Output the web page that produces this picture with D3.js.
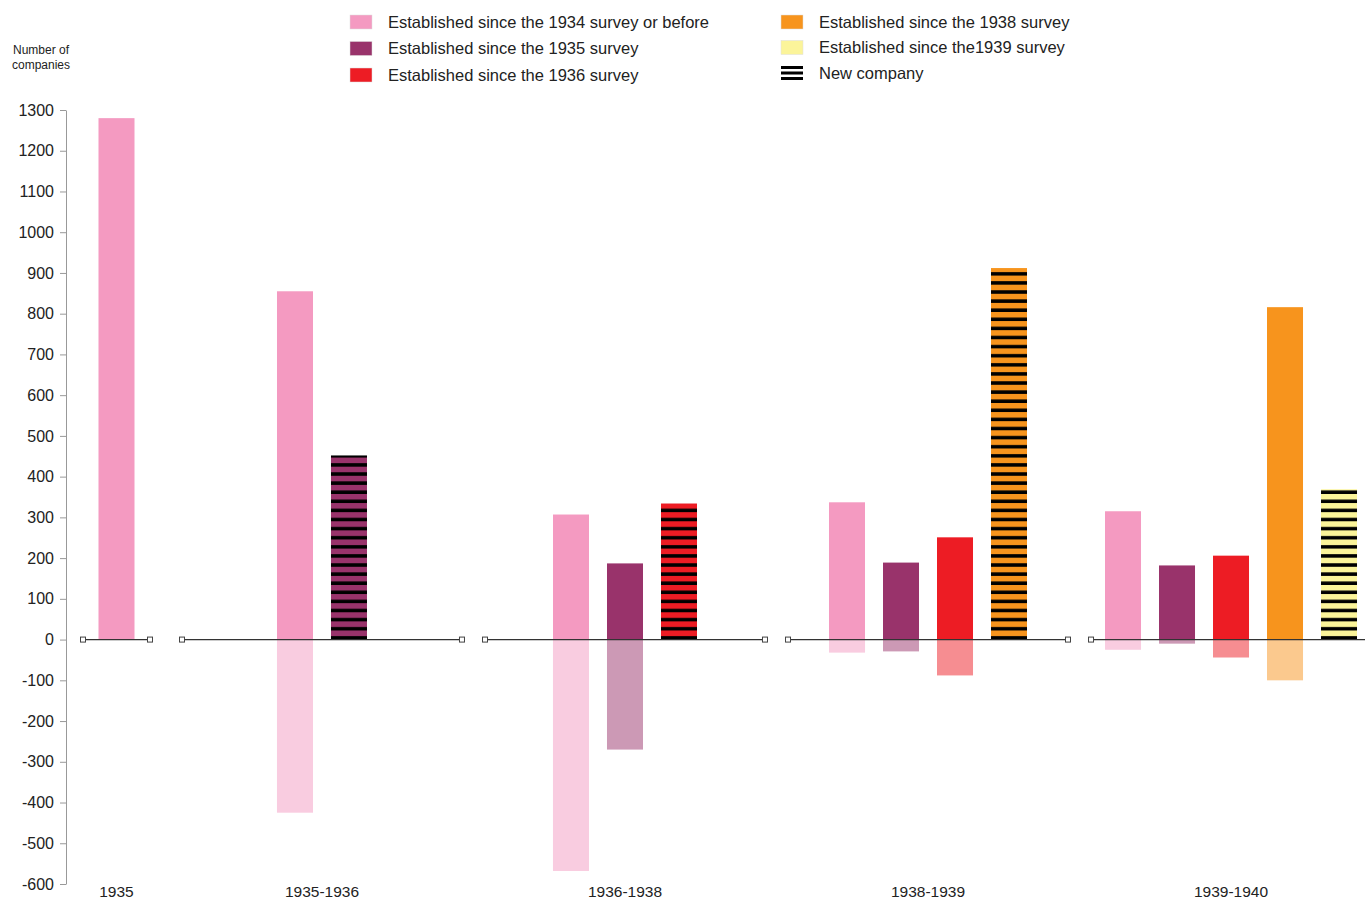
<!DOCTYPE html>
<html>
<head>
<meta charset="utf-8">
<script src="https://cdn.jsdelivr.net/npm/d3@7"></script>
<style>
  body { margin: 0; background: #fff; }
  svg text { font-family: "Liberation Sans", Arial, sans-serif; fill: #222; }
</style>
</head>
<body>
<div id="chart"></div>
<script>
// Data
const periods = ["1935", "1935-1936", "1936-1938", "1938-1939", "1939-1940"];
const cohorts = [
  "Established since the 1934 survey or before",
  "Established since the 1935 survey",
  "Established since the 1936 survey",
  "Established since the 1938 survey",
  "Established since the1939 survey"
];
const cohortColors = ["#f49ac1", "#99336b", "#ed1c24", "#f7941d", "#fbf49a"];
// companies present per period (one value per cohort, last one is the new cohort)
const gains = [
  [1280],
  [855, 452],
  [307, 187, 334],
  [337, 189, 251, 912],
  [315, 182, 206, 816, 369]
];
// companies lost per period
const losses = [
  [0],
  [-425, 0],
  [-568, -270, 0],
  [-32, -29, -88, 0],
  [-25, -10, -44, -100, 0]
];
const yTicks = d3.range(-600, 1301, 100);

let chart = {
  width: 1365,
  height: 900,
  axisX: 66,
  yTop: 110,
  yBottom: 884,
  barW: 36,
  slot: 54,
  svg: null
};

chart.svg = d3.select("#chart").append("svg")
  .attr("width", chart.width)
  .attr("height", chart.height);

let y = d3.scaleLinear().domain([-600, 1300]).range([chart.yBottom, chart.yTop]);

// group placement: first period is a single narrow group, the others share one band scale
let band = d3.scaleBand().domain(periods.slice(1))
  .range([182, 1371]).paddingInner(0.076).paddingOuter(0);
let groupSpan = (i) => i === 0
  ? [83, 150]
  : [band(periods[i]), band(periods[i]) + band.bandwidth()];
let groupCenter = (i) => (groupSpan(i)[0] + groupSpan(i)[1]) / 2;
let barX = (g, k) => groupCenter(g) + (k - (gains[g].length - 1) / 2) * chart.slot - chart.barW / 2;

// stripe patterns for the newly established companies
let defs = chart.svg.append("defs");
cohortColors.forEach((c, i) => {
  let p = defs.append("pattern")
    .attr("id", "stripe" + i)
    .attr("patternUnits", "userSpaceOnUse")
    .attr("width", 40).attr("height", 9.1)
    .attr("patternTransform", `translate(0, ${y(0)})`);
  p.append("rect").attr("width", 40).attr("height", 9.1).attr("fill", c);
  p.append("rect").attr("y", 5.6).attr("width", 40).attr("height", 3.5).attr("fill", "#000");
});

// y axis
let yAxis = d3.axisLeft(y).tickValues(yTicks)
  .tickFormat((d) => String(d))
  .tickSize(6).tickPadding(6).tickSizeOuter(0);
let ax = chart.svg.append("g")
  .attr("transform", `translate(${chart.axisX}, 0)`)
  .call(yAxis);
ax.select(".domain").attr("stroke", "#999");
ax.selectAll(".tick line").attr("stroke", "#999");
ax.selectAll(".tick text").style("font-size", "16px").attr("fill", "#222");

chart.svg.append("text").attr("x", 41).attr("y", 54)
  .attr("text-anchor", "middle").style("font-size", "12px").text("Number of");
chart.svg.append("text").attr("x", 41).attr("y", 69)
  .attr("text-anchor", "middle").style("font-size", "12px").text("companies");

// bars
periods.forEach((p, g) => {
  let grp = chart.svg.append("g").attr("class", "period");
  let n = gains[g].length;

  grp.selectAll("rect.neg").data(losses[g]).enter()
    .append("rect")
    .attr("class", "neg")
    .attr("x", (d, k) => barX(g, k))
    .attr("y", y(0))
    .attr("width", chart.barW)
    .attr("height", (d) => y(d) - y(0))
    .attr("fill", (d, k) => cohortColors[k])
    .attr("fill-opacity", 0.5);

  grp.selectAll("rect.pos").data(gains[g]).enter()
    .append("rect")
    .attr("class", "pos")
    .attr("x", (d, k) => barX(g, k))
    .attr("y", (d) => y(d))
    .attr("width", chart.barW)
    .attr("height", (d) => y(0) - y(d))
    .attr("fill", (d, k) => (k === n - 1 && g > 0) ? `url(#stripe${k})` : cohortColors[k]);

  // baseline with end markers
  let s = groupSpan(g);
  grp.append("line")
    .attr("x1", s[0]).attr("x2", s[1])
    .attr("y1", y(0)).attr("y2", y(0))
    .attr("stroke", "#333").attr("stroke-width", 1.3);
  grp.selectAll("rect.end").data(s).enter()
    .append("rect")
    .attr("class", "end")
    .attr("x", (d) => d - 2.5).attr("y", y(0) - 2.5)
    .attr("width", 5).attr("height", 5)
    .attr("fill", "#fff").attr("stroke", "#444").attr("stroke-width", 1);

  grp.append("text")
    .attr("x", groupCenter(g)).attr("y", 897)
    .attr("text-anchor", "middle")
    .style("font-size", "15.5px")
    .text(p);
});

// legend
let legendItems = cohorts.map((c, i) => ({ label: c, fill: cohortColors[i] }));
legendItems.push({ label: "New company", fill: null });
let legend = chart.svg.append("g").selectAll("g").data(legendItems).enter()
  .append("g")
  .attr("transform", (d, i) => `translate(${i < 3 ? 350 : 781}, ${15 + (i % 3) * (i < 3 ? 26.5 : 25.5)})`);

legend.filter((d) => d.fill).append("rect")
  .attr("width", 22).attr("height", 14)
  .attr("fill", (d) => d.fill)
  .attr("stroke", "#ddd").attr("stroke-width", 0.5);

let nc = legend.filter((d) => !d.fill);
nc.selectAll("rect").data([0, 5.5, 11]).enter()
  .append("rect")
  .attr("x", 0).attr("y", (d) => d)
  .attr("width", 22).attr("height", 3)
  .attr("fill", "#000");

legend.append("text")
  .attr("x", 38).attr("y", 12.5)
  .style("font-size", "16.5px")
  .text((d) => d.label);
</script>
</body>
</html>
